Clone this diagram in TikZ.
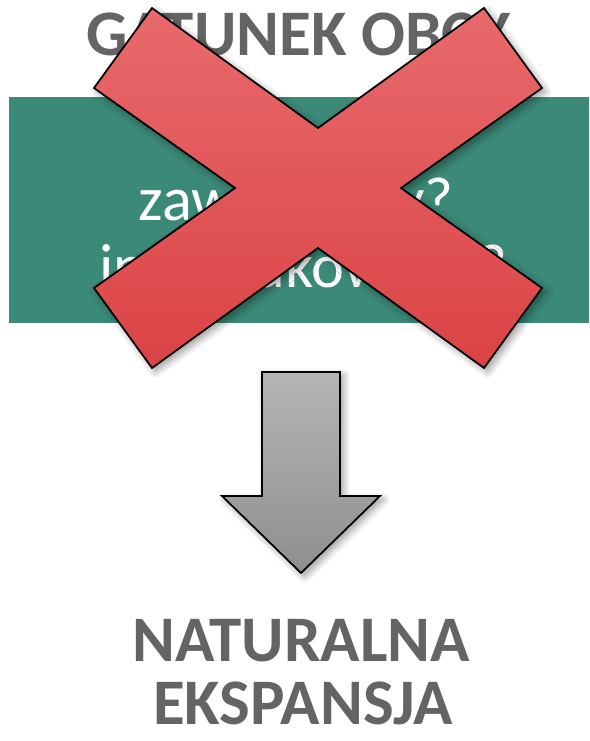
\documentclass[tikz,border=0pt]{standalone}
\usepackage{fontspec}
\setmainfont{Carlito}
\usepackage{tikz}
\usetikzlibrary{shadows.blur}
\definecolor{boxgreen}{RGB}{59,137,119}
\definecolor{crosstop}{RGB}{232,106,108}
\definecolor{crossbot}{RGB}{219,67,69}
\definecolor{carbon}{RGB}{100,100,100}
\tikzstyle{carbon text}=[text=carbon, anchor=base, inner sep=0pt
,font=\fontsize{37}{37}\selectfont\bfseries
]
\tikzstyle{box text}=[text=white, anchor=base, inner sep=0pt
,font=\fontsize{35.5}{35.5}\selectfont
]
\tikzstyle{corner}=[coordinate]
\tikzstyle{shade shape}=[draw=black, line width=1pt
,blur shadow={shadow xshift=2pt, shadow yshift=-2pt, shadow blur steps=8, shadow blur radius=4pt, shadow opacity=40}
]
\tikzstyle{cross}=[shade shape, top color=crosstop, bottom color=crossbot]
\tikzstyle{down arrow}=[shade shape, top color=gray!58, bottom color=gray!88]

\begin{document}
\begin{tikzpicture}[x=0.02cm, y=-0.02cm]
    \useasboundingbox (0,0) rectangle (589,741);
    % Title and green box
    \node[carbon text] (title) at (298,55) {GATUNEK OBCY};
    \fill[boxgreen] (9,97) rectangle (589,323);
    \node[box text] (zaw) at (296,220) {zawleczony?};
    \node[box text] (intro) at (303,287) {introdukowany?};

    % Corners of the cross
    \foreach \pos/\name in {{(152,8)/x1}, {(318,128)/x2}, {(484,8)/x3}, {(542,88)/x4},
        {(401,188)/x5}, {(542,288)/x6}, {(484,368)/x7}, {(318,248)/x8},
        {(152,368)/x9}, {(94,288)/x10}, {(235,188)/x11}, {(94,88)/x12}}
        \node[corner] (\name) at \pos {};
    \path[cross] (x1) -- (x2) -- (x3) -- (x4) -- (x5) -- (x6) -- (x7) -- (x8)
        -- (x9) -- (x10) -- (x11) -- (x12) -- cycle;

    % Arrow pointing down
    \foreach \pos/\name in {{(262,372)/a1}, {(340,372)/a2}, {(340,496)/a3}, {(380,496)/a4},
        {(301,573)/a5}, {(222,496)/a6}, {(262,496)/a7}}
        \node[corner] (\name) at \pos {};
    \path[down arrow] (a1) -- (a2) -- (a3) -- (a4) -- (a5) -- (a6) -- (a7) -- cycle;

    % Result
    \node[carbon text] (natural) at (301,661) {NATURALNA};
    \node[carbon text] (expand) at (303,724) {EKSPANSJA};
\end{tikzpicture}
\end{document}
